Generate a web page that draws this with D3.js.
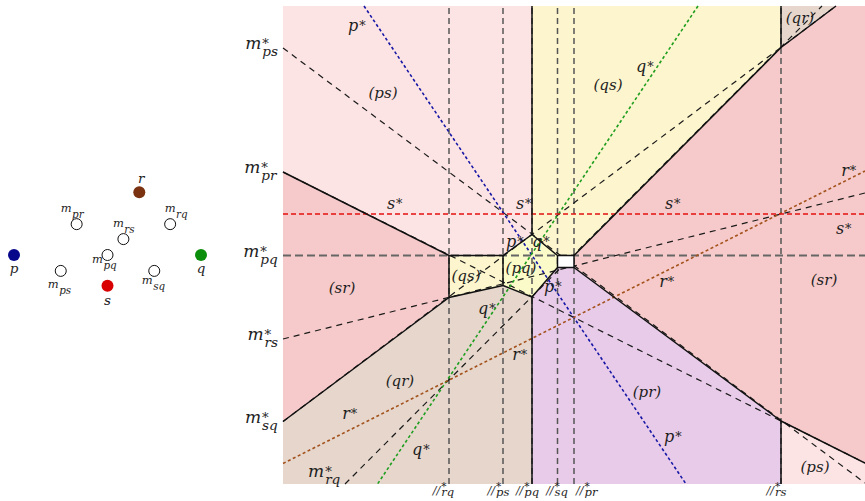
<!DOCTYPE html>
<html>
<head>
<meta charset="utf-8">
<script src="https://cdn.jsdelivr.net/npm/d3@7"></script>
<style>
  body { margin: 0; background: #fff; }
  svg text { font-family: "DejaVu Serif", "Liberation Serif", serif; font-style: italic; fill: #1e1e1e; }
</style>
</head>
<body>
<svg id="chart" width="865" height="501"></svg>
<script>
// ---- left panel: sites and midpoints (unit coords, y up) ----
const sites = [
  { name: "p", x: -1, y: 0, color: "#07078c" },
  { name: "q", x: 1, y: 0, color: "#0b8e0b" },
  { name: "r", x: 0.34, y: 0.67, color: "#7a3210" },
  { name: "s", x: 0, y: -0.33, color: "#d80000" }
];
const midpoints = [
  { name: "pr", x: -0.33, y: 0.33 },
  { name: "rq", x: 0.67, y: 0.33 },
  { name: "rs", x: 0.17, y: 0.17 },
  { name: "pq", x: 0, y: 0 },
  { name: "ps", x: -0.5, y: -0.17 },
  { name: "sq", x: 0.5, y: -0.17 }
];

// ---- main panel (plot units, y up) ----
const verticals = [
  { name: "rq", x: 166 }, { name: "ps", x: 220 }, { name: "pq", x: 249 },
  { name: "sq", x: 274.5 }, { name: "pr", x: 291 }, { name: "rs", x: 498 }
];
const axisLines = [
  { name: "ps", y: 436 }, { name: "pr", y: 312 }, { name: "pq", y: 228.5 },
  { name: "rs", y: 145 }, { name: "sq", y: 62.5 }
];
const sStar = 270;   // s* horizontal
const mpq = 228.5;   // m*pq horizontal

// bisector lines m*.. as [x0,y0,x1,y1]
const bisectors = [
  { name: "ps", seg: [0, 436, 582, 1] },
  { name: "pr", seg: [0, 312, 582, 21] },
  { name: "sq", seg: [0, 62.5, 553, 478] },
  { name: "rq", seg: [62, 0, 539, 478] },
  { name: "rs", seg: [0, 145, 582, 291] }
];
// site lines p*, q*, r*
const starLines = [
  { name: "p", seg: [81, 478, 403, 0], color: "#1717a6" },
  { name: "q", seg: [415, 478, 94.5, 0], color: "#1f9e1f" },
  { name: "r", seg: [0, 20.5, 582, 313], color: "#a3521c" }
];

// region vertices
const vertices = {
  TL: [0, 478], TR: [582, 478], BL: [0, 0], BR: [582, 0],
  A: [0, 312], B: [166, 228.5], C: [166, 186.5], D: [0, 62.5],
  E: [220, 228.5], F: [220, 198.5], G: [249, 249.5], H: [274.5, 228.5],
  I: [274.5, 216.5], J: [249, 187], K: [291, 228.5], L: [291, 216.5],
  M: [498, 436.5], N: [553, 478], O: [498, 63], P: [582, 21],
  T1: [249, 478], B1: [249, 0], T2: [498, 478], B2: [498, 0]
};
const regions = [
  { label: "ps", pts: ["TL", "T1", "G", "E", "B", "A"] },
  { label: "sr", pts: ["A", "B", "C", "D"] },
  { label: "qs", pts: ["B", "E", "F", "C"] },
  { label: "pq", pts: ["E", "G", "H", "I", "J", "F"] },
  { label: "qr", pts: ["D", "C", "F", "J", "B1", "BL"] },
  { label: "qs", pts: ["T1", "T2", "M", "K", "H", "G"] },
  { label: "qr", pts: ["T2", "N", "M"] },
  { label: "sr", pts: ["N", "TR", "P", "O", "L", "K", "M"] },
  { label: "pr", pts: ["J", "I", "L", "O", "B2", "B1"] },
  { label: "ps", pts: ["O", "P", "BR", "B2"] }
];
const centerBox = ["H", "K", "L", "I"];
const boundaries = [
  ["A", "B"], ["D", "C"], ["B", "E"], ["B", "C", "F"],
  ["E", "G", "H", "I", "J", "F", "E"], ["H", "K", "L", "I"],
  ["T1", "G"], ["J", "B1"], ["K", "M", "N"], ["T2", "M"],
  ["L", "O", "P"], ["O", "B2"]
];

const regionColor = { ps: "#fde4e4", sr: "#f6caca", qs: "#fdf5cd", pq: "#fbfbc9", qr: "#e6d6cc", pr: "#e8cbe9" };

// label placements
const regionLabels = [
  { t: "ps", x: 100, y: 386 }, { t: "qs", x: 325, y: 394 }, { t: "qr", x: 517, y: 461 },
  { t: "sr", x: 59, y: 191 }, { t: "sr", x: 541, y: 199 }, { t: "qs", x: 183, y: 203 },
  { t: "pq", x: 238, y: 211 }, { t: "qr", x: 117, y: 98 }, { t: "pr", x: 364, y: 87 },
  { t: "ps", x: 532, y: 12 }
];
const starLabels = [
  { t: "p", x: 74, y: 453 }, { t: "q", x: 362, y: 412 },
  { t: "s", x: 112, y: 275 }, { t: "s", x: 241, y: 275 }, { t: "s", x: 390, y: 275 }, { t: "s", x: 561, y: 250 },
  { t: "r", x: 566, y: 308 }, { t: "r", x: 384, y: 197 }, { t: "r", x: 237, y: 124 }, { t: "r", x: 67, y: 65 },
  { t: "q", x: 138, y: 29 }, { t: "q", x: 204, y: 170 }, { t: "q", x: 258, y: 237 },
  { t: "p", x: 232, y: 237 }, { t: "p", x: 270, y: 192 }, { t: "p", x: 390, y: 42 }
];

const svg = d3.select("#chart");

const x = d3.scaleLinear().domain([0, 582]).range([283, 865]);
const y = d3.scaleLinear().domain([0, 478]).range([484, 6]);
const lx = d3.scaleLinear().domain([-1, 1]).range([14, 201]);
const ly = d3.scaleLinear().domain([-1, 1]).range([348.5, 161.5]);
const path = d3.line().x(d => x(d[0])).y(d => y(d[1]));
const pts = names => names.map(n => vertices[n]);

// base^sup_sub as one text element, baseline at 0
function mathLabel(parent, base, sup, sub, size, opt) {
  opt = opt || {};
  const t = parent.append("text").attr("font-size", size);
  const b = t.append("tspan").attr("x", 0).attr("y", 0).text(base);
  const w = b.node().getComputedTextLength();
  if (sup) t.append("tspan").attr("x", w + (opt.supDx || 1)).attr("y", opt.supDy != null ? opt.supDy : -1)
    .attr("font-size", size * (opt.supScale || 0.75)).style("font-style", "normal").text(sup);
  if (sub) t.append("tspan").attr("x", w + (opt.subDx || 1)).attr("y", opt.subDy != null ? opt.subDy : size * 0.4)
    .attr("font-size", size * (opt.subScale || 0.8)).text(sub);
  return t;
}
function place(el, px, py, anchor) {
  const b = el.node().getBBox();
  let tx = px - b.x;
  if (anchor === "middle") tx = px - (b.x + b.width / 2);
  if (anchor === "end") tx = px - (b.x + b.width);
  el.attr("transform", `translate(${tx},${py})`);
}

// ---- regions ----
svg.append("g").selectAll("path").data(regions).join("path")
  .attr("d", d => path(pts(d.pts)) + "Z")
  .attr("fill", d => regionColor[d.label]);

// ---- vertical reference lines ----
svg.append("g").selectAll("line").data(verticals).join("line")
  .attr("x1", d => x(d.x)).attr("x2", d => x(d.x))
  .attr("y1", y(0)).attr("y2", y(478))
  .attr("stroke", "#555").attr("stroke-width", 1.5).attr("stroke-dasharray", "6,4");

// m*pq horizontal
svg.append("line")
  .attr("x1", x(0)).attr("x2", x(582)).attr("y1", y(mpq)).attr("y2", y(mpq))
  .attr("stroke", "#666").attr("stroke-width", 2).attr("stroke-dasharray", "8,4");

// bisectors
svg.append("g").selectAll("line").data(bisectors).join("line")
  .attr("x1", d => x(d.seg[0])).attr("y1", d => y(d.seg[1]))
  .attr("x2", d => x(d.seg[2])).attr("y2", d => y(d.seg[3]))
  .attr("stroke", "#1a1a1a").attr("stroke-width", 1.2).attr("stroke-dasharray", "6,5");

// site lines
svg.append("g").selectAll("line").data(starLines).join("line")
  .attr("x1", d => x(d.seg[0])).attr("y1", d => y(d.seg[1]))
  .attr("x2", d => x(d.seg[2])).attr("y2", d => y(d.seg[3]))
  .attr("stroke", d => d.color).attr("stroke-width", 1.6).attr("stroke-dasharray", "3,2.5");

svg.append("line")
  .attr("x1", x(0)).attr("x2", x(582)).attr("y1", y(sStar)).attr("y2", y(sStar))
  .attr("stroke", "#e41010").attr("stroke-width", 1.6).attr("stroke-dasharray", "5,3");

// central box
svg.append("path").attr("d", path(pts(centerBox)) + "Z").attr("fill", "#fff");

// ---- solid boundaries ----
svg.append("g").selectAll("path").data(boundaries).join("path")
  .attr("d", d => path(pts(d)))
  .attr("fill", "none").attr("stroke", "#111").attr("stroke-width", 1.5)
  .attr("stroke-linejoin", "round");

// ---- labels ----
const lab = svg.append("g");
regionLabels.forEach(d => {
  lab.append("text").attr("x", x(d.x)).attr("y", y(d.y))
    .attr("text-anchor", "middle").attr("font-size", 15).text(`(${d.t})`);
});
starLabels.forEach(d => {
  const t = mathLabel(lab, d.t, "*", null, 16, { supDy: -1, supScale: 0.8 });
  place(t, x(d.x), y(d.y), "middle");
});

// y-side labels m*_xx
axisLines.forEach(d => {
  const t = mathLabel(lab, "m", "*", d.name, 17, { supDy: -1, supScale: 0.78, subDy: 7, subScale: 0.8 });
  place(t, 278, y(d.y) + 1, "end");
});
// m*_rq at the bottom
{
  const t = mathLabel(lab, "m", "*", "rq", 17, { supDy: -1, supScale: 0.78, subDy: 7, subScale: 0.8 });
  place(t, 308, 477, "start");
}

// bottom labels //*_xx
const bottomNudge = { rq: -6, ps: -5, pq: -5, sq: -1, pr: 13, rs: -5 };
verticals.forEach(d => {
  const t = mathLabel(lab, "//", "*", d.name, 11, { supDx: 1, supDy: -4, supScale: 0.95, subDx: 1, subDy: 2, subScale: 1.05 });
  place(t, x(d.x) + bottomNudge[d.name], 494, "middle");
});

// ---- left panel ----
const left = svg.append("g");
left.selectAll("circle.m").data(midpoints).join("circle")
  .attr("class", "m")
  .attr("cx", d => lx(d.x)).attr("cy", d => ly(d.y)).attr("r", 5.5)
  .attr("fill", "#fff").attr("stroke", "#111").attr("stroke-width", 1);
left.selectAll("circle.s").data(sites).join("circle")
  .attr("class", "s")
  .attr("cx", d => lx(d.x)).attr("cy", d => ly(d.y)).attr("r", 6)
  .attr("fill", d => d.color);

const siteOffset = { p: [0, 18], q: [0, 18], r: [2, -9], s: [0, 19] };
sites.forEach(d => {
  left.append("text").attr("x", lx(d.x) + siteOffset[d.name][0]).attr("y", ly(d.y) + siteOffset[d.name][1])
    .attr("text-anchor", "middle").attr("font-size", 13.5).text(d.name);
});
const midOffset = { pr: [-16, -12], rq: [-5.5, -12], rs: [-10.5, -12], pq: [-15.5, 8], ps: [-13, 17], sq: [-12.5, 13] };
midpoints.forEach(d => {
  const t = mathLabel(left, "m", null, d.name, 11.5, { subDy: 6, subScale: 0.9, subDx: 0.5 });
  t.attr("transform", `translate(${lx(d.x) + midOffset[d.name][0]},${ly(d.y) + midOffset[d.name][1]})`);
});
</script>
</body>
</html>
